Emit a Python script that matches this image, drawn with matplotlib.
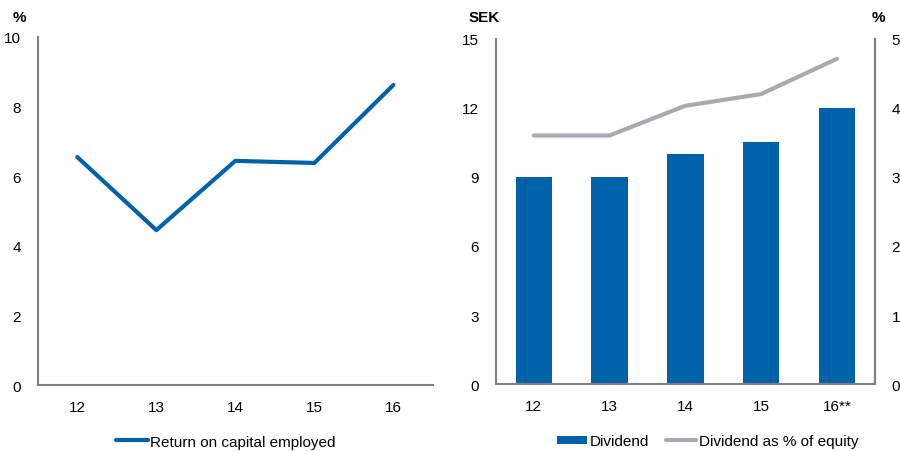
import matplotlib
matplotlib.use("Agg")
import matplotlib.pyplot as plt
import numpy as np

plt.rcParams['font.family'] = ['Liberation Sans', 'DejaVu Sans']
plt.rcParams['font.size'] = 11

# Data
years_left = ['12', '13', '14', '15', '16']
roce = [6.55, 4.45, 6.44, 6.38, 8.62]

years_right = ['12', '13', '14', '15', '16**']
dividend = [9, 9, 10, 10.5, 12]
div_pct_equity = [3.6, 3.6, 4.03, 4.2, 4.71]

BLUE = '#0062a8'
GREY = '#a7aaae'
SPINE = '#808080'

fig = plt.figure(figsize=(9, 4.52), dpi=100)

# Left panel: return on capital employed
ax1 = fig.add_axes([0.042, 0.146, 0.439, 0.770])
x = np.arange(len(years_left))
ax1.plot(x, roce, color=BLUE, lw=3, solid_capstyle='round', label='Return on capital employed')
ax1.set_xlim(-0.5, 4.5)
ax1.set_ylim(0, 10)
ax1.set_yticks([0, 2, 4, 6, 8, 10])
ax1.set_xticks(x)
ax1.set_xticklabels(years_left)
for s in ['top', 'right']:
    ax1.spines[s].set_visible(False)
for s in ['left', 'bottom']:
    ax1.spines[s].set_color(SPINE)
    ax1.spines[s].set_linewidth(1.5)
ax1.tick_params(length=0, pad=11)
ax1.tick_params(axis='y', pad=12)
fig.text(0.014, 0.96, '%', fontweight='bold', fontsize=11, va='center')
ax1.legend(loc='center', bbox_to_anchor=(0.475, -0.163), frameon=False,
           handlelength=2.1, handletextpad=0.1, fontsize=11)

# Right panel: dividend and dividend as % of equity
ax2 = fig.add_axes([0.551, 0.148, 0.421, 0.764])
xr = np.arange(len(years_right))
ax2.bar(xr, dividend, width=0.48, color=BLUE, label='Dividend')
ax2.set_xlim(-0.5, 4.5)
ax2.set_ylim(0, 15)
ax2.set_yticks([0, 3, 6, 9, 12, 15])
ax2.set_xticks(xr)
ax2.set_xticklabels(years_right)
ax2.spines['top'].set_visible(False)
for s in ['left', 'bottom', 'right']:
    ax2.spines[s].set_color(SPINE)
    ax2.spines[s].set_linewidth(1.5)
ax2.tick_params(length=0, pad=11)
ax2.tick_params(axis='y', pad=12)

ax3 = ax2.twinx()
ax3.plot(xr, div_pct_equity, color=GREY, lw=3, solid_capstyle='round',
         label='Dividend as % of equity')
ax3.set_ylim(0, 5)
ax3.set_yticks([0, 1, 2, 3, 4, 5])
for s in ['top', 'left', 'bottom']:
    ax3.spines[s].set_visible(False)
ax3.spines['right'].set_color(SPINE)
ax3.spines['right'].set_linewidth(1.5)
ax3.tick_params(length=0, pad=12)

fig.text(0.521, 0.96, 'SEK', fontweight='bold', fontsize=11, va='center')
fig.text(0.968, 0.96, '%', fontweight='bold', fontsize=11, va='center')

h1, l1 = ax2.get_legend_handles_labels()
h2, l2 = ax3.get_legend_handles_labels()
ax2.legend(h1 + h2, l1 + l2, loc='center', bbox_to_anchor=(0.558, -0.165), frameon=False,
           ncol=2, handlelength=2.0, handleheight=0.45, handletextpad=0.15,
           columnspacing=1.1, fontsize=11)

fig.savefig('out.png', dpi=100)
